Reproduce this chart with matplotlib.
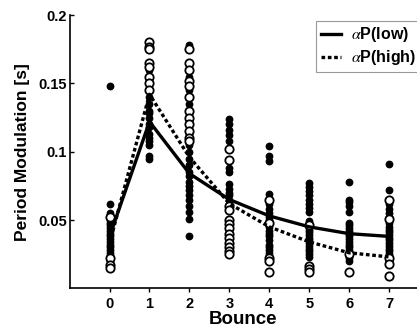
import numpy as np
import matplotlib
matplotlib.use("Agg")
import matplotlib.pyplot as plt

plt.rcParams['font.family'] = ['Liberation Sans', 'DejaVu Sans']
plt.rcParams['mathtext.fontset'] = 'stix'

bounces = [0, 1, 2, 3, 4, 5, 6, 7]

# mean period modulation per bounce
mean_low = [0.038, 0.122, 0.084, 0.065, 0.053, 0.045, 0.040, 0.038]
mean_high = [0.033, 0.142, 0.096, 0.062, 0.045, 0.034, 0.026, 0.023]

# individual trials, low alpha (filled) and high alpha (open)
low_trials = [
    [0.148, 0.062, 0.055, 0.053, 0.050, 0.048, 0.046, 0.044, 0.042, 0.040, 0.038,
     0.036, 0.034, 0.032, 0.030, 0.028, 0.026, 0.024, 0.022, 0.020],
    [0.095, 0.097, 0.105, 0.108, 0.110, 0.113, 0.118, 0.120, 0.125, 0.128, 0.130,
     0.135, 0.140, 0.145, 0.150, 0.155, 0.160],
    [0.178, 0.155, 0.145, 0.135, 0.128, 0.120, 0.113, 0.105, 0.100, 0.095, 0.090,
     0.085, 0.082, 0.078, 0.075, 0.072, 0.068, 0.065, 0.060, 0.056, 0.051, 0.038],
    [0.124, 0.120, 0.116, 0.112, 0.108, 0.102, 0.088, 0.085, 0.076, 0.073, 0.070,
     0.068, 0.065, 0.062, 0.058, 0.050, 0.045, 0.040, 0.035, 0.032],
    [0.104, 0.097, 0.093, 0.069, 0.065, 0.062, 0.058, 0.055, 0.052, 0.050, 0.048,
     0.045, 0.042, 0.040, 0.038, 0.035, 0.032, 0.030, 0.028, 0.026, 0.024],
    [0.077, 0.074, 0.071, 0.068, 0.065, 0.062, 0.059, 0.056, 0.049, 0.047, 0.045,
     0.043, 0.041, 0.039, 0.037, 0.035, 0.033, 0.031, 0.029, 0.027, 0.025, 0.023],
    [0.078, 0.065, 0.063, 0.060, 0.056, 0.048, 0.046, 0.044, 0.042, 0.040, 0.038,
     0.036, 0.034, 0.032, 0.030, 0.028, 0.026, 0.024, 0.022, 0.020],
    [0.091, 0.072, 0.062, 0.058, 0.055, 0.052, 0.048, 0.045, 0.043, 0.041, 0.039,
     0.037, 0.035, 0.033, 0.031, 0.029, 0.027, 0.025, 0.023, 0.020],
]
high_trials = [
    [0.052, 0.022, 0.017, 0.015],
    [0.180, 0.177, 0.175, 0.165, 0.162, 0.155, 0.150, 0.145],
    [0.175, 0.165, 0.160, 0.152, 0.148, 0.140, 0.130, 0.125, 0.120, 0.115, 0.110, 0.108],
    [0.102, 0.094, 0.060, 0.057, 0.050, 0.047, 0.044, 0.040, 0.037, 0.033, 0.030,
     0.027, 0.025],
    [0.065, 0.048, 0.022, 0.020, 0.012],
    [0.046, 0.016, 0.014, 0.012],
    [0.025, 0.012],
    [0.065, 0.051, 0.022, 0.018, 0.009],
]

fig = plt.figure(figsize=(4.17, 3.28), dpi=100)
ax = fig.add_axes([0.167, 0.121, 0.833, 0.833])

for b, vals in zip(bounces, low_trials):
    ax.plot([b] * len(vals), vals, 'o', color='black', markersize=4.6, zorder=2)
for b, vals in zip(bounces, high_trials):
    ax.plot([b] * len(vals), vals, 'o', markerfacecolor='white', markeredgecolor='black',
            markeredgewidth=1.3, markersize=6, zorder=3)

ax.plot(bounces, mean_low, '-', color='black', lw=2.4, label=r'$\alpha$P(low)', zorder=4)
ax.plot(bounces, mean_high, color='black', lw=2.4, linestyle=(0, (1.1, 0.8)),
        label=r'$\alpha$P(high)', zorder=4)

ax.set_xlim(-1, 7.7)
ax.set_ylim(0, 0.2)
ax.set_xticks(bounces)
ax.set_yticks([0.05, 0.1, 0.15, 0.2])
ax.set_yticklabels(['0.05', '0.1', '0.15', '0.2'])
ax.spines['top'].set_visible(False)
ax.spines['right'].set_visible(False)
for s in ['left', 'bottom']:
    ax.spines[s].set_linewidth(1.2)
ax.tick_params(axis='y', direction='in', length=3, width=1, pad=2, labelsize=10.5)
ax.tick_params(axis='x', direction='out', length=3, width=1, pad=3, labelsize=10.5)
for lab in ax.get_xticklabels() + ax.get_yticklabels():
    lab.set_fontweight('bold')

ax.set_xlabel('Bounce', fontsize=13.5, fontweight='bold', labelpad=0)
ax.set_ylabel('Period Modulation [s]', fontsize=12.5, fontweight='bold', labelpad=6)

leg = ax.legend(loc='upper left', bbox_to_anchor=(0.709, 0.98), borderaxespad=0,
                fancybox=False, edgecolor='gray', handlelength=1.3, handletextpad=0.6,
                borderpad=0.3, labelspacing=0.25, prop={'weight': 'bold', 'size': 11.5})
leg.get_frame().set_linewidth(0.8)

fig.savefig('out.png', dpi=100)
